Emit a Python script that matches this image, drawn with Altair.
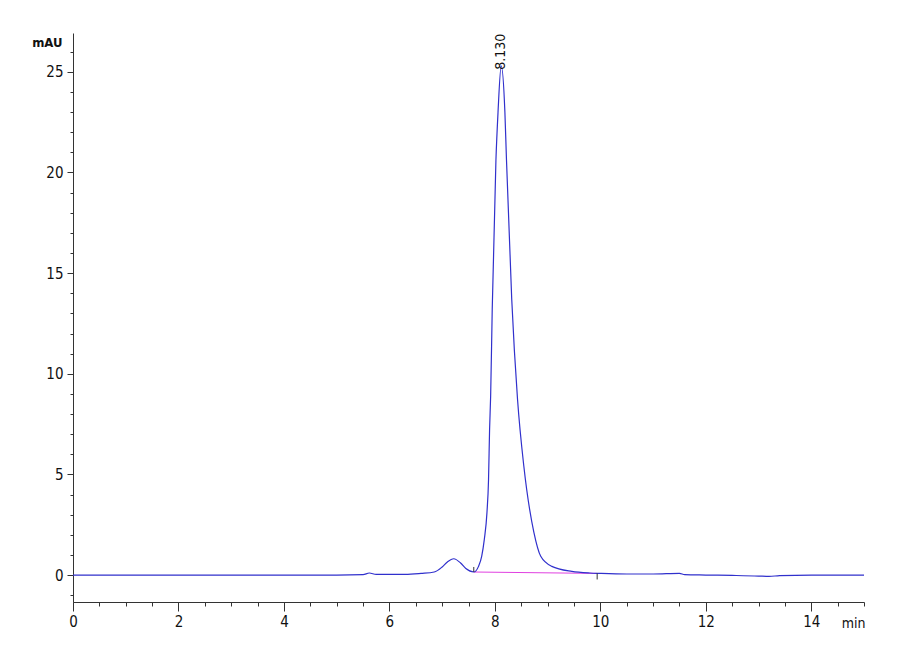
import altair as alt
import pandas as pd

# Chromatogram trace (time in min, signal in mAU)
time_min = [0.0, 1.0, 2.0, 3.0, 4.0, 5.0, 5.5, 5.62, 5.75, 6.3, 6.6, 6.85, 7.0, 7.1, 7.22,
            7.35, 7.45, 7.60, 7.69, 7.75, 7.80, 7.85, 7.88, 7.90, 7.92, 7.95, 8.02, 8.06,
            8.12, 8.19, 8.22, 8.32, 8.43, 8.55, 8.74, 8.87, 9.08, 9.46, 9.8, 10.0, 10.5,
            11.0, 11.5, 11.6, 12.0, 12.5, 13.0, 13.2, 13.4, 14.0, 15.0]
signal_mau = [0.0, 0.0, 0.0, 0.0, 0.0, 0.0, 0.02, 0.1, 0.03, 0.03, 0.08, 0.15, 0.4, 0.65, 0.81,
              0.6, 0.32, 0.15, 0.43, 0.93, 1.77, 3.1, 4.75, 7.25, 8.9, 13.2, 20.6, 23.0,
              25.3, 23.0, 20.64, 13.69, 8.72, 5.39, 2.12, 0.93, 0.43, 0.18, 0.1, 0.08, 0.05,
              0.05, 0.08, 0.02, 0.0, -0.02, -0.05, -0.07, -0.03, 0.0, 0.0]

# Integration baseline under the main peak
baseline_time = [7.60, 9.94]
baseline_mau = [0.15, 0.08]

# Integration start / end markers
marker_time = [7.60, 9.94]
marker_top = [0.40, 0.08]
marker_bottom = [0.15, -0.22]

# Peak label
peak_time = [8.12]
peak_mau = [25.1]
peak_text = ["8.130"]

x_major = [0, 2, 4, 6, 8, 10, 12, 14]
x_minor = [0.5 * i for i in range(31)]
y_major = [0, 5, 10, 15, 20, 25]
y_minor = list(range(-1, 27))

FONT = "Liberation Sans Narrow, DejaVu Sans Condensed, Arial Narrow, sans-serif"
AX = "#333333"

trace = pd.DataFrame({"t": time_min, "s": signal_mau})
base = pd.DataFrame({"t": baseline_time, "s": baseline_mau})
marks = pd.DataFrame({"t": marker_time, "s1": marker_top, "s2": marker_bottom})
label = pd.DataFrame({"t": peak_time, "s": peak_mau, "txt": peak_text})

xs = alt.Scale(domain=[0, 15], nice=False, zero=False)
ys = alt.Scale(domain=[-1.34, 26.93], nice=False, zero=False)

major_x_axis = alt.Axis(values=x_major, tickSize=9, tickColor=AX, domainColor=AX, grid=False,
                        labelFont=FONT, labelFontSize=15, labelColor="#111111", labelPadding=3,
                        labelFlush=False, title="min", titleFont=FONT, titleFontSize=14,
                        titleFontWeight="normal", titleAlign="right", titleBaseline="alphabetic",
                        titleX=792, titleY=25, titleColor="#111111", orient="bottom")
major_y_axis = alt.Axis(values=y_major, tickSize=6, tickColor=AX, domainColor=AX, grid=False,
                        labelFont=FONT, labelFontSize=15, labelColor="#111111", labelPadding=4,
                        title="mAU", titleFont=FONT, titleFontSize=13, titleFontWeight="bold",
                        titleAngle=0, titleAlign="right", titleBaseline="alphabetic",
                        titleX=-11, titleY=13, titleColor="#111111", orient="left")
minor_x_axis = alt.Axis(values=x_minor, tickSize=4, tickColor=AX, domain=False, grid=False,
                        labels=False, title=None, orient="bottom")
minor_y_axis = alt.Axis(values=y_minor, tickSize=3, tickColor=AX, domain=False, grid=False,
                        labels=False, title=None, orient="left")

line = alt.Chart(trace).mark_line(color="#3030cc", strokeWidth=1.2, interpolate="monotone").encode(
    x=alt.X("t:Q", scale=xs, axis=major_x_axis),
    y=alt.Y("s:Q", scale=ys, axis=major_y_axis),
)

baseline = alt.Chart(base).mark_line(color="#e040e0", strokeWidth=1).encode(
    x=alt.X("t:Q", scale=xs, axis=minor_x_axis),
    y=alt.Y("s:Q", scale=ys, axis=minor_y_axis),
)

markers = alt.Chart(marks).mark_rule(color="#333333", strokeWidth=1).encode(
    x=alt.X("t:Q", scale=xs, axis=None),
    y=alt.Y("s1:Q", scale=ys, axis=None),
    y2="s2:Q",
)

text = alt.Chart(label).mark_text(angle=270, align="left", baseline="middle", font=FONT,
                                  fontSize=14, color="#111111").encode(
    x=alt.X("t:Q", scale=xs, axis=None),
    y=alt.Y("s:Q", scale=ys, axis=None),
    text="txt:N",
)

chart = alt.layer(baseline, line, markers, text).resolve_axis(
    x="independent", y="independent"
).properties(
    width=791,
    height=569,
    autosize=alt.AutoSizeParams(type="none"),
    padding={"left": 65, "top": 25, "right": 20, "bottom": 50},
    background="white",
).configure_view(stroke=None)

chart.save("out.html", embed_options={"renderer": "svg", "actions": False})
